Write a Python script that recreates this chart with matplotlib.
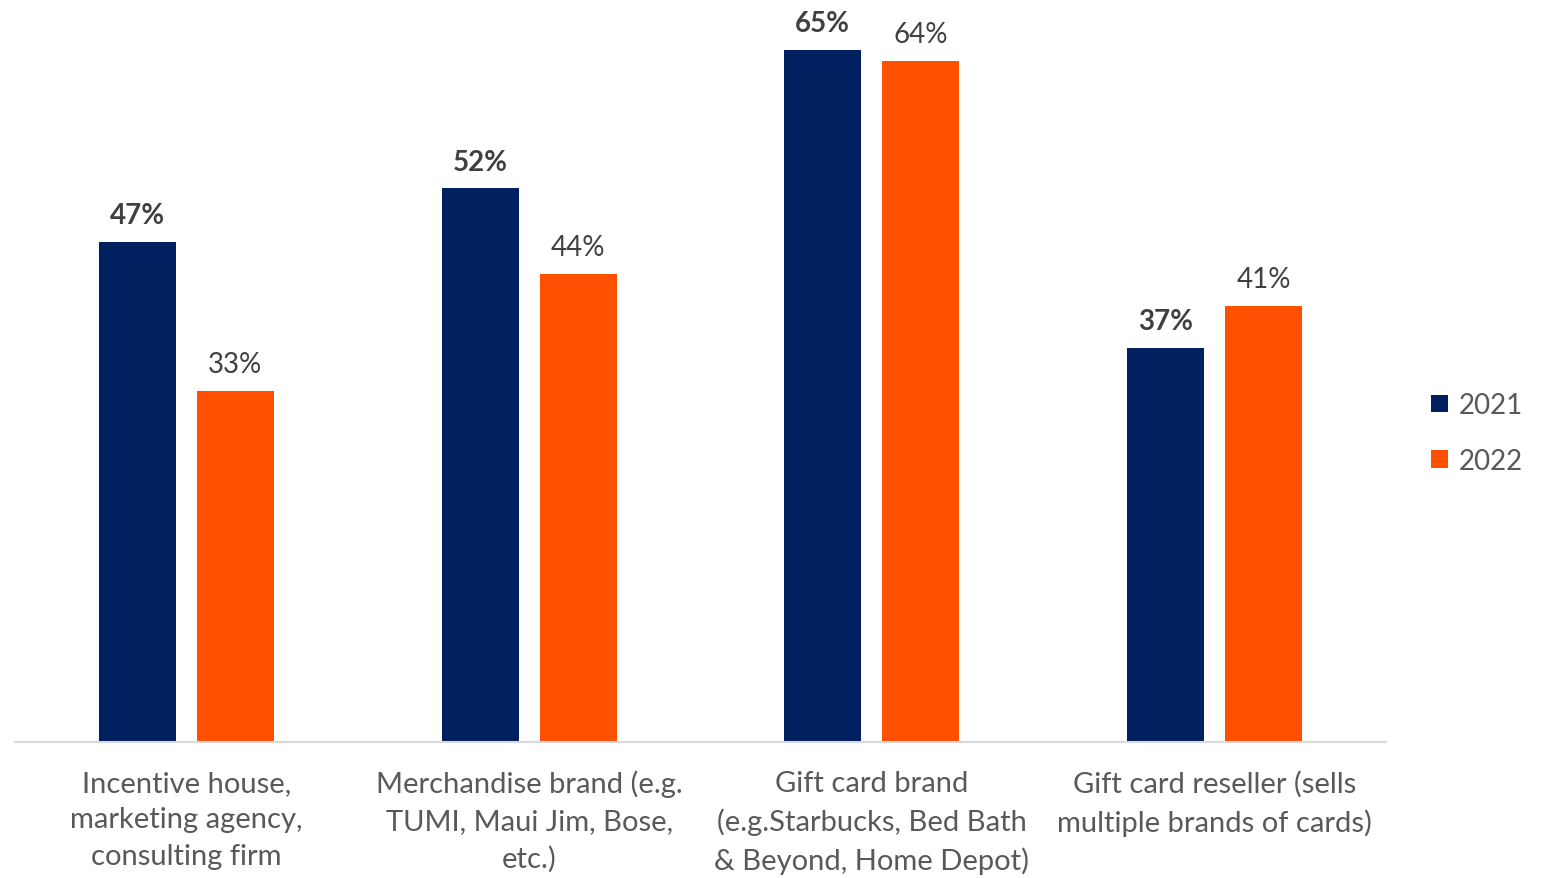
import matplotlib
matplotlib.use('Agg')
import matplotlib.pyplot as plt
import numpy as np

plt.rcParams['font.family'] = ['Lato', 'DejaVu Sans']

categories = [
    'Incentive house,\nmarketing agency,\nconsulting firm',
    'Merchandise brand (e.g.\nTUMI, Maui Jim, Bose,\netc.)',
    'Gift card brand\n(e.g.Starbucks, Bed Bath\n& Beyond, Home Depot)',
    'Gift card reseller (sells\nmultiple brands of cards)',
]
series_names = ['2021', '2022']
values_2021 = [47, 52, 65, 37]
values_2022 = [33, 44, 64, 41]

navy = '#002060'
orange = '#FF5000'

fig = plt.figure(figsize=(15.5, 8.79), dpi=100)
ax = fig.add_axes([15 / 1550, 136 / 879, 1371 / 1550, 743 / 879])

x = np.arange(len(categories))
width = 0.225
offset = 0.143

b1 = ax.bar(x - offset, values_2021, width, color=navy, label=series_names[0])
b2 = ax.bar(x + offset, values_2022, width, color=orange, label=series_names[1])

for rect, v in zip(b1, values_2021):
    ax.annotate(f'{v}%', (rect.get_x() + rect.get_width() / 2, v),
                xytext=(0, 10), textcoords='offset points',
                ha='center', va='bottom', fontsize=20, fontweight='bold',
                color='#404040')
for rect, v in zip(b2, values_2022):
    ax.annotate(f'{v}%', (rect.get_x() + rect.get_width() / 2, v),
                xytext=(0, 10), textcoords='offset points',
                ha='center', va='bottom', fontsize=20, color='#404040')

ax.set_xlim(-0.5, len(categories) - 0.5)
ax.set_ylim(0, 69.8)
ax.set_yticks([])
ax.set_xticks(x)
ax.set_xticklabels(categories, fontsize=21, color='#595959', linespacing=1.5)
ax.tick_params(axis='x', length=0, pad=20)
for s in ['top', 'right', 'left']:
    ax.spines[s].set_visible(False)
ax.spines['bottom'].set_color('#D9D9D9')
ax.spines['bottom'].set_linewidth(1.5)

leg = fig.legend(handles=[b1, b2], labels=series_names, loc='center left',
                 bbox_to_anchor=(1406 / 1550, 1 - 434 / 879), frameon=False,
                 fontsize=20, handlelength=0.6, handleheight=0.6,
                 handletextpad=0.4, labelspacing=1.05, labelcolor='#595959')

fig.savefig('out.png', dpi=100)
